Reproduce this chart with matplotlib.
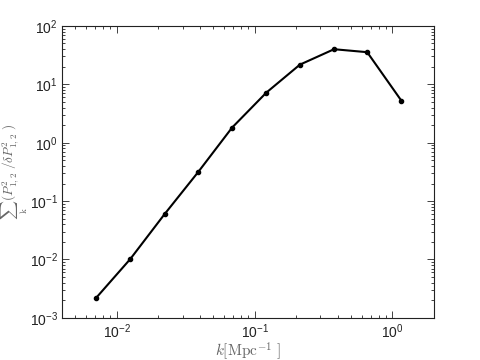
import matplotlib
matplotlib.use('Agg')
import matplotlib.pyplot as plt

plt.rcParams['font.family'] = ['Liberation Sans', 'DejaVu Sans']
plt.rcParams['mathtext.fontset'] = 'cm'

# k bins and summed signal-to-noise
k = [0.00712, 0.01254, 0.0222, 0.0389, 0.0686, 0.1216, 0.213, 0.377, 0.656, 1.16]
snr = [0.00223, 0.0102, 0.0596, 0.313, 1.81, 7.2, 21.7, 39.9, 35.5, 5.26]

fig = plt.figure(figsize=(4.8, 3.6), dpi=100)
ax = fig.add_axes([0.129, 0.117, 0.775, 0.811])
ax.plot(k, snr, 'k-', lw=1.5, marker='o', ms=3)
ax.set_xscale('log')
ax.set_yscale('log')
ax.set_xlim(0.004, 2)
ax.set_ylim(1e-3, 1e2)

ax.tick_params(which='both', direction='in', top=True, right=True,
               labelsize=10, colors='#222222', width=0.6)
ax.tick_params(which='major', length=5, pad=3)
ax.tick_params(which='minor', length=2.5)
for s in ax.spines.values():
    s.set_linewidth(0.8)
    s.set_color('#222222')

ax.set_xlabel(r'$k[\mathrm{Mpc}^{-1}\ ]$', fontsize=11, color='#666666', labelpad=0)
ax.set_ylabel(r'$\sum_{\mathrm{k}}\,(P^2_{1,2}\ /\delta P^2_{1,2}\ )$', fontsize=9.5,
              color='#666666', labelpad=0)
ax.yaxis.set_label_coords(-0.085, 0.5)
ax.xaxis.set_label_coords(0.5, -0.075)

fig.savefig('out.png', dpi=100)
plt.close(fig)
